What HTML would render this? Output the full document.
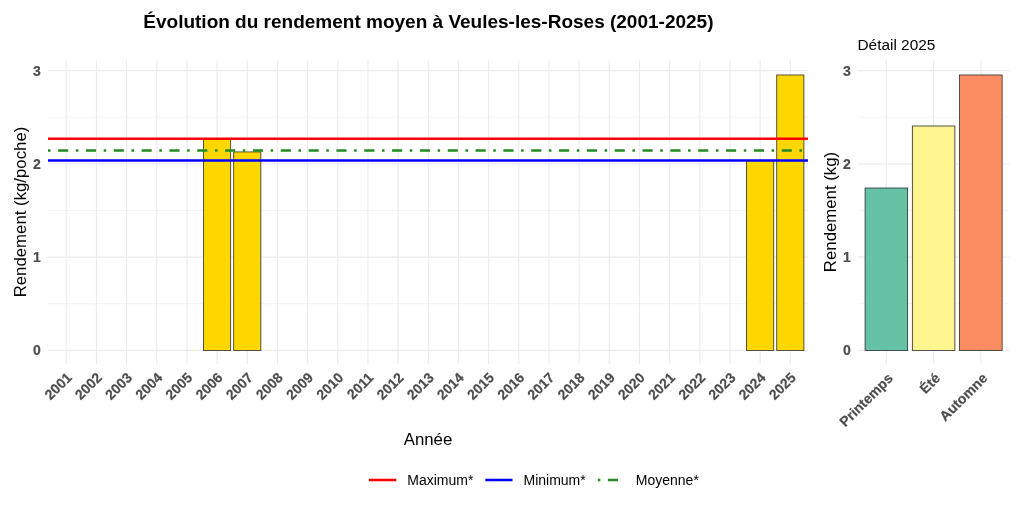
<!DOCTYPE html><html lang="fr"><head><meta charset="utf-8"><title>Évolution du rendement moyen à Veules-les-Roses</title>
<style>html,body{margin:0;padding:0;background:#fff;}svg{display:block;font-family:"Liberation Sans",sans-serif;}</style></head><body>
<svg width="1024" height="512" viewBox="0 0 1024 512">
<rect width="1024" height="512" fill="#fff"/>
<g stroke="#ebebeb" fill="none">
<line x1="48.0" x2="808.0" y1="303.77" y2="303.77" stroke-width="0.6"/>
<line x1="48.0" x2="808.0" y1="210.50" y2="210.50" stroke-width="0.6"/>
<line x1="48.0" x2="808.0" y1="117.23" y2="117.23" stroke-width="0.6"/>
<line x1="48.0" x2="808.0" y1="350.40" y2="350.40" stroke-width="1.1"/>
<line x1="48.0" x2="808.0" y1="257.13" y2="257.13" stroke-width="1.1"/>
<line x1="48.0" x2="808.0" y1="163.87" y2="163.87" stroke-width="1.1"/>
<line x1="48.0" x2="808.0" y1="70.60" y2="70.60" stroke-width="1.1"/>
<line x1="66.25" x2="66.25" y1="60.6" y2="364.0" stroke-width="1.1"/>
<line x1="96.42" x2="96.42" y1="60.6" y2="364.0" stroke-width="1.1"/>
<line x1="126.59" x2="126.59" y1="60.6" y2="364.0" stroke-width="1.1"/>
<line x1="156.76" x2="156.76" y1="60.6" y2="364.0" stroke-width="1.1"/>
<line x1="186.93" x2="186.93" y1="60.6" y2="364.0" stroke-width="1.1"/>
<line x1="217.10" x2="217.10" y1="60.6" y2="364.0" stroke-width="1.1"/>
<line x1="247.27" x2="247.27" y1="60.6" y2="364.0" stroke-width="1.1"/>
<line x1="277.44" x2="277.44" y1="60.6" y2="364.0" stroke-width="1.1"/>
<line x1="307.61" x2="307.61" y1="60.6" y2="364.0" stroke-width="1.1"/>
<line x1="337.78" x2="337.78" y1="60.6" y2="364.0" stroke-width="1.1"/>
<line x1="367.95" x2="367.95" y1="60.6" y2="364.0" stroke-width="1.1"/>
<line x1="398.12" x2="398.12" y1="60.6" y2="364.0" stroke-width="1.1"/>
<line x1="428.29" x2="428.29" y1="60.6" y2="364.0" stroke-width="1.1"/>
<line x1="458.46" x2="458.46" y1="60.6" y2="364.0" stroke-width="1.1"/>
<line x1="488.63" x2="488.63" y1="60.6" y2="364.0" stroke-width="1.1"/>
<line x1="518.80" x2="518.80" y1="60.6" y2="364.0" stroke-width="1.1"/>
<line x1="548.97" x2="548.97" y1="60.6" y2="364.0" stroke-width="1.1"/>
<line x1="579.14" x2="579.14" y1="60.6" y2="364.0" stroke-width="1.1"/>
<line x1="609.31" x2="609.31" y1="60.6" y2="364.0" stroke-width="1.1"/>
<line x1="639.48" x2="639.48" y1="60.6" y2="364.0" stroke-width="1.1"/>
<line x1="669.65" x2="669.65" y1="60.6" y2="364.0" stroke-width="1.1"/>
<line x1="699.82" x2="699.82" y1="60.6" y2="364.0" stroke-width="1.1"/>
<line x1="729.99" x2="729.99" y1="60.6" y2="364.0" stroke-width="1.1"/>
<line x1="760.16" x2="760.16" y1="60.6" y2="364.0" stroke-width="1.1"/>
<line x1="790.33" x2="790.33" y1="60.6" y2="364.0" stroke-width="1.1"/>
</g>
<rect x="203.53" y="138.68" width="27.15" height="211.72" fill="#ffd700" stroke="#2b2b2b" stroke-width="0.8"/>
<rect x="233.70" y="151.93" width="27.15" height="198.47" fill="#ffd700" stroke="#2b2b2b" stroke-width="0.8"/>
<rect x="746.59" y="160.60" width="27.15" height="189.80" fill="#ffd700" stroke="#2b2b2b" stroke-width="0.8"/>
<rect x="776.75" y="74.98" width="27.15" height="275.42" fill="#ffd700" stroke="#2b2b2b" stroke-width="0.8"/>
<line x1="48.0" x2="808.0" y1="138.68" y2="138.68" stroke="#ff0000" stroke-width="2.53"/>
<line x1="48.0" x2="808.0" y1="160.60" y2="160.60" stroke="#0000ff" stroke-width="2.53"/>
<line x1="48.0" x2="808.0" y1="150.53" y2="150.53" stroke="#228b22" stroke-width="2.53" stroke-dasharray="2.53 7.59 10.12 7.59"/>
<g font-size="14" font-weight="700" fill="#4d4d4d" stroke="#4d4d4d" stroke-width="0.2" text-anchor="end">
<text x="40.8" y="355.40">0</text>
<text x="40.8" y="262.13">1</text>
<text x="40.8" y="168.87">2</text>
<text x="40.8" y="75.60">3</text>
<text x="850.9" y="355.40">0</text>
<text x="850.9" y="262.13">1</text>
<text x="850.9" y="168.87">2</text>
<text x="850.9" y="75.60">3</text>
</g>
<g font-size="14" font-weight="700" fill="#4d4d4d" stroke="#4d4d4d" stroke-width="0.2" text-anchor="end">
<text transform="translate(72.65,378.5) rotate(-45)">2001</text>
<text transform="translate(102.82,378.5) rotate(-45)">2002</text>
<text transform="translate(132.99,378.5) rotate(-45)">2003</text>
<text transform="translate(163.16,378.5) rotate(-45)">2004</text>
<text transform="translate(193.33,378.5) rotate(-45)">2005</text>
<text transform="translate(223.50,378.5) rotate(-45)">2006</text>
<text transform="translate(253.67,378.5) rotate(-45)">2007</text>
<text transform="translate(283.84,378.5) rotate(-45)">2008</text>
<text transform="translate(314.01,378.5) rotate(-45)">2009</text>
<text transform="translate(344.18,378.5) rotate(-45)">2010</text>
<text transform="translate(374.35,378.5) rotate(-45)">2011</text>
<text transform="translate(404.52,378.5) rotate(-45)">2012</text>
<text transform="translate(434.69,378.5) rotate(-45)">2013</text>
<text transform="translate(464.86,378.5) rotate(-45)">2014</text>
<text transform="translate(495.03,378.5) rotate(-45)">2015</text>
<text transform="translate(525.20,378.5) rotate(-45)">2016</text>
<text transform="translate(555.37,378.5) rotate(-45)">2017</text>
<text transform="translate(585.54,378.5) rotate(-45)">2018</text>
<text transform="translate(615.71,378.5) rotate(-45)">2019</text>
<text transform="translate(645.88,378.5) rotate(-45)">2020</text>
<text transform="translate(676.05,378.5) rotate(-45)">2021</text>
<text transform="translate(706.22,378.5) rotate(-45)">2022</text>
<text transform="translate(736.39,378.5) rotate(-45)">2023</text>
<text transform="translate(766.56,378.5) rotate(-45)">2024</text>
<text transform="translate(796.73,378.5) rotate(-45)">2025</text>
</g>
<g stroke="#ebebeb" fill="none">
<line x1="858.0" x2="1009.2" y1="303.77" y2="303.77" stroke-width="0.6"/>
<line x1="858.0" x2="1009.2" y1="210.50" y2="210.50" stroke-width="0.6"/>
<line x1="858.0" x2="1009.2" y1="117.23" y2="117.23" stroke-width="0.6"/>
<line x1="858.0" x2="1009.2" y1="350.40" y2="350.40" stroke-width="1.1"/>
<line x1="858.0" x2="1009.2" y1="257.13" y2="257.13" stroke-width="1.1"/>
<line x1="858.0" x2="1009.2" y1="163.87" y2="163.87" stroke-width="1.1"/>
<line x1="858.0" x2="1009.2" y1="70.60" y2="70.60" stroke-width="1.1"/>
<line x1="886.35" x2="886.35" y1="60.6" y2="364.0" stroke-width="1.1"/>
<line x1="933.60" x2="933.60" y1="60.6" y2="364.0" stroke-width="1.1"/>
<line x1="980.85" x2="980.85" y1="60.6" y2="364.0" stroke-width="1.1"/>
</g>
<rect x="865.09" y="188.02" width="42.53" height="162.38" fill="#66c2a5" stroke="#2b2b2b" stroke-width="0.8"/>
<rect x="912.34" y="126.00" width="42.53" height="224.40" fill="#fff68f" stroke="#2b2b2b" stroke-width="0.8"/>
<rect x="959.59" y="74.98" width="42.53" height="275.42" fill="#fc8d62" stroke="#2b2b2b" stroke-width="0.8"/>
<g font-size="14" font-weight="700" fill="#4d4d4d" stroke="#4d4d4d" stroke-width="0.2" text-anchor="end">
<text transform="translate(893.75,379.1) rotate(-45)">Printemps</text>
<text transform="translate(941.00,379.1) rotate(-45)">Été</text>
<text transform="translate(988.25,379.1) rotate(-45)">Automne</text>
</g>
<text x="428.4" y="27.5" font-size="19" font-weight="700" fill="#000" text-anchor="middle">Évolution du rendement moyen à Veules-les-Roses (2001-2025)</text>
<text x="857.5" y="50.2" font-size="15.4" fill="#000">Détail 2025</text>
<text x="428" y="445" font-size="16.8" fill="#000" text-anchor="middle">Année</text>
<text transform="translate(26,212) rotate(-90)" font-size="16.8" fill="#000" text-anchor="middle">Rendement (kg/poche)</text>
<text transform="translate(836,212) rotate(-90)" font-size="16.8" fill="#000" text-anchor="middle">Rendement (kg)</text>
<line x1="369" x2="396.3" y1="480" y2="480" stroke="#ff0000" stroke-width="2.53"/>
<line x1="485.3" x2="512.5" y1="480" y2="480" stroke="#0000ff" stroke-width="2.53"/>
<line x1="597.8" x2="625.5" y1="480" y2="480" stroke="#228b22" stroke-width="2.53" stroke-dasharray="2.53 7.59 10.12 7.59"/>
<g font-size="14" fill="#000">
<text x="407.3" y="484.7">Maximum*</text>
<text x="523.5" y="484.7">Minimum*</text>
<text x="635.8" y="484.7">Moyenne*</text>
</g>
</svg></body></html>
